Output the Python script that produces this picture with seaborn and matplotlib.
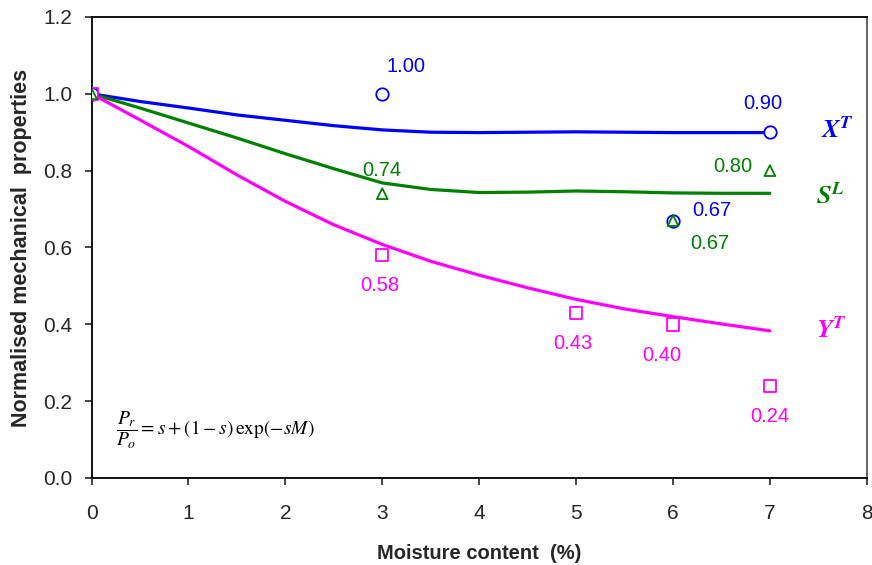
import numpy as np
import pandas as pd
import matplotlib
matplotlib.use('Agg')
import matplotlib.pyplot as plt
import seaborn as sns

# measured points
xt_x = [0, 3, 6, 7]
xt_y = [1.00, 1.00, 0.67, 0.90]
sl_x = [0, 3, 6, 7]
sl_y = [1.00, 0.74, 0.67, 0.80]
yt_x = [0, 3, 5, 6, 7]
yt_y = [1.00, 0.58, 0.43, 0.40, 0.24]

# fitted curves
fit_x = [0, 0.5, 1, 1.5, 2, 2.5, 3, 3.5, 4, 4.5, 5, 5.5, 6, 6.5, 7]
xt_fit = [1.0, 0.98, 0.963, 0.945, 0.931, 0.917, 0.906, 0.900, 0.899, 0.900, 0.901, 0.900, 0.899, 0.899, 0.899]
sl_fit = [1.0, 0.963, 0.924, 0.885, 0.844, 0.805, 0.768, 0.751, 0.743, 0.744, 0.747, 0.745, 0.742, 0.741, 0.741]
yt_fit = [1.0, 0.932, 0.863, 0.789, 0.72, 0.659, 0.608, 0.564, 0.528, 0.495, 0.465, 0.44, 0.42, 0.401, 0.383]

blue = '#0000ff'
green = '#008000'
magenta = '#ff00ff'

sns.set_style('white')
plt.rcParams['font.family'] = ['Liberation Sans', 'DejaVu Sans']
plt.rcParams['mathtext.fontset'] = 'stix'

fig, ax = plt.subplots(figsize=(8.72, 5.65), dpi=100)

sns.lineplot(x=fit_x, y=xt_fit, color=blue, lw=2.3, ax=ax)
sns.lineplot(x=fit_x, y=sl_fit, color=green, lw=2.3, ax=ax)
sns.lineplot(x=fit_x, y=yt_fit, color=magenta, lw=2.3, ax=ax)

sns.scatterplot(x=xt_x, y=xt_y, marker='o', s=80, facecolor='white', edgecolor=blue, linewidth=1.3, ax=ax, zorder=3)
sns.scatterplot(x=yt_x, y=yt_y, marker='s', s=80, facecolor='none', edgecolor=magenta, linewidth=1.3, ax=ax, zorder=3)
sns.scatterplot(x=sl_x, y=sl_y, marker='^', s=60, facecolor='none', edgecolor=green, linewidth=1.3, ax=ax, zorder=4)

fs = 14.5
ax.text(3.25, 1.07, '1.00', color=blue, fontsize=fs, ha='center', va='center')
ax.text(6.93, 0.975, '0.90', color=blue, fontsize=fs, ha='center', va='center')
ax.text(6.4, 0.695, '0.67', color=blue, fontsize=fs, ha='center', va='center')
ax.text(3.0, 0.80, '0.74', color=green, fontsize=fs, ha='center', va='center')
ax.text(6.62, 0.81, '0.80', color=green, fontsize=fs, ha='center', va='center')
ax.text(6.38, 0.61, '0.67', color=green, fontsize=fs, ha='center', va='center')
ax.text(2.97, 0.50, '0.58', color=magenta, fontsize=fs, ha='center', va='center')
ax.text(4.97, 0.35, '0.43', color=magenta, fontsize=fs, ha='center', va='center')
ax.text(5.88, 0.318, '0.40', color=magenta, fontsize=fs, ha='center', va='center')
ax.text(7.0, 0.16, '0.24', color=magenta, fontsize=fs, ha='center', va='center')

ax.text(7.53, 0.905, r'$\mathbfit{X}^{\mathbfit{T}}$', color=blue, fontsize=19, ha='left', va='center')
ax.text(7.48, 0.735, r'$\mathbfit{S}^{\mathbfit{L}}$', color=green, fontsize=19, ha='left', va='center')
ax.text(7.48, 0.385, r'$\mathbfit{Y}^{\mathbfit{T}}$', color=magenta, fontsize=19, ha='left', va='center')

ax.text(0.25, 0.125, r'$\dfrac{P_r}{P_o} = s + (1-s)\,\exp(-sM)$', color='black', fontsize=14, ha='left', va='center')

ax.set_xlim(0, 8)
ax.set_ylim(0, 1.2)
ax.set_xticks(range(0, 9))
ax.set_yticks(np.arange(0, 1.21, 0.2))
ax.set_yticklabels([f'{v:.1f}' for v in np.arange(0, 1.21, 0.2)])
ax.tick_params(axis='both', labelsize=15, direction='out', length=5, width=1.2, bottom=True, left=True)
ax.tick_params(axis='x', pad=14)
ax.tick_params(axis='y', pad=9)
ax.set_xlabel('Moisture content  (%)', fontsize=14.5, fontweight='bold', labelpad=15)
ax.set_ylabel('Normalised mechanical  properties', fontsize=15.5, fontweight='bold', labelpad=8)
for side in ['left', 'bottom', 'top']:
    ax.spines[side].set_color('black')
    ax.spines[side].set_linewidth(1.3)
ax.spines['right'].set_color('#555555')
ax.spines['right'].set_linewidth(1.3)

plt.subplots_adjust(left=0.105, right=0.994, top=0.97, bottom=0.154)
plt.savefig('out.png', dpi=100)
